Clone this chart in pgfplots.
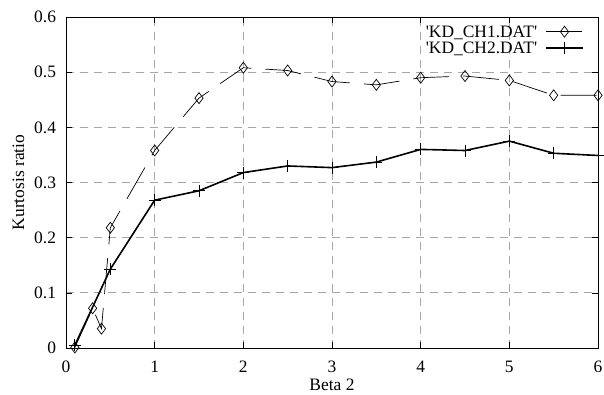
\documentclass[border=0pt]{standalone}
\usepackage{pgfplots}
\pgfplotsset{compat=1.18}
\usepackage{fontspec}
\setmainfont{Liberation Serif}
\begin{document}
\fontsize{17.5}{20}\selectfont
\begin{tikzpicture}[x=1bp,y=1bp]
\begin{axis}[
  at={(0,0)}, anchor=south west,
  scale only axis, width=532bp, height=331bp,
  xmin=0, xmax=6, ymin=0, ymax=0.6,
  xtick={0,1,2,3,4,5,6},
  ytick={0,0.1,0.2,0.3,0.4,0.5,0.6},
  /pgf/number format/assume math mode=true,
  yticklabel style={/pgf/number format/fixed,/pgf/number format/precision=1, xshift=-4bp},
  xticklabel style={yshift=-7bp},
  tick align=inside, major tick length=6bp,
  xtick pos=both, ytick pos=both,
  tick style={black, line width=0.6bp},
  grid=major,
  major grid style={gray!70, line width=0.8bp, dash pattern=on 8bp off 6bp},
  axis line style={black, line width=1bp},
  xlabel={Beta 2}, ylabel={Kurtosis ratio},
  xlabel style={yshift=6bp},
  ylabel style={yshift=-2bp},
  tick label style={font=\fontsize{17.5}{20}\selectfont},
  label style={font=\fontsize{17.5}{20}\selectfont},
  legend plot pos=right,
  legend cell align=right,
  legend style={at={(1,1)}, anchor=north east, xshift=-14bp, yshift=-7bp,
    draw=none, fill=none, inner sep=0bp, row sep=1bp, column sep=7bp,
    nodes={inner sep=1bp, text height=12bp, text depth=1bp},
    font=\fontsize{17.5}{20}\selectfont},
  legend image code/.code={\draw[mark repeat=2,mark phase=2,#1] plot coordinates {(0bp,0bp) (18.5bp,0bp) (37bp,0bp)};},
]
\addplot[black, line width=0.7bp, dash pattern=on 36bp off 14bp,
  mark=diamond, mark size=5.5bp, mark options={solid, fill=none, line width=0.7bp}]
  coordinates {
  (0.1,0.001) (0.3,0.072) (0.4,0.035) (0.5,0.218) (1,0.358) (1.5,0.453)
  (2,0.508) (2.5,0.503) (3,0.483) (3.5,0.477) (4,0.490) (4.5,0.493)
  (5,0.485) (5.5,0.458) (6,0.458)};
\addlegendentry{\textquotesingle KD\_CH1.DAT\textquotesingle}
\addplot[black, line width=1.6bp,
  mark=+, mark size=6bp, mark options={solid, line width=0.8bp}]
  coordinates {
  (0.1,0.005) (0.5,0.143) (1,0.268) (1.5,0.285) (2,0.318) (2.5,0.330)
  (3,0.327) (3.5,0.337) (4,0.360) (4.5,0.358) (5,0.375) (5.5,0.353) (6,0.349)};
\addlegendentry{\textquotesingle KD\_CH2.DAT\textquotesingle}
\end{axis}
\pgfresetboundingbox
\path[use as bounding box] (-66,-46) rectangle (538,348);
\end{tikzpicture}
\end{document}
